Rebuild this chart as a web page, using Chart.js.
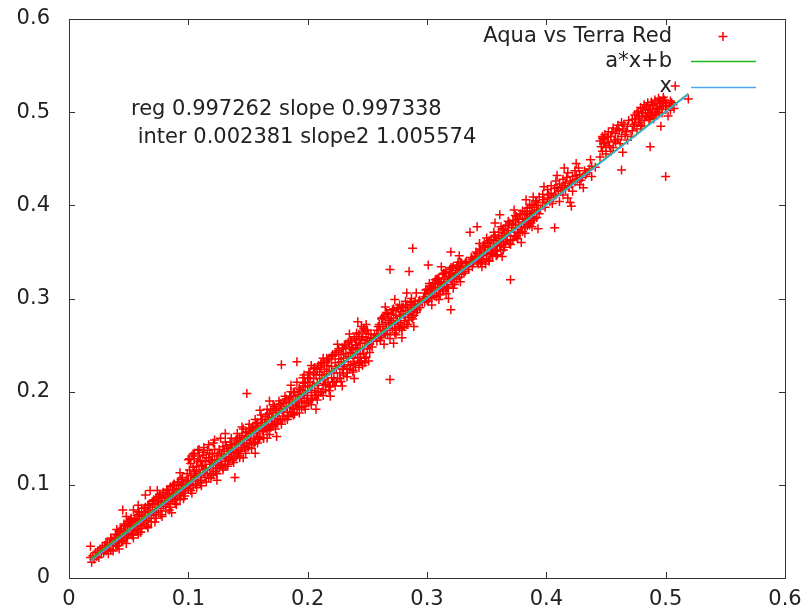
<!DOCTYPE html>
<html>
<head>
<meta charset="utf-8">
<script src="https://cdn.jsdelivr.net/npm/chart.js@4.4.1/dist/chart.umd.min.js"></script>
<style>
  body { margin: 0; background: #fff; }
  canvas { display: block; }
</style>
</head>
<body>
<canvas id="myChart" width="808" height="613"></canvas>
<script>
// Aqua vs Terra red reflectance as [aqua, terra]
let bandLow = [
    [0.018,0.022],[0.019,0.017],[0.020,0.024],[0.021,0.020],[0.022,0.027],[0.023,0.023],[0.024,0.029],
    [0.025,0.022],[0.026,0.031],[0.027,0.026],[0.028,0.033],[0.029,0.027],[0.030,0.035],[0.031,0.029],
    [0.032,0.038],[0.033,0.031],[0.034,0.036],[0.035,0.030],[0.036,0.041],[0.037,0.035],[0.038,0.043],
    [0.039,0.037],[0.040,0.034],[0.041,0.046],[0.042,0.050],[0.042,0.038],[0.043,0.044],[0.044,0.053],
    [0.044,0.040],[0.045,0.047],[0.046,0.056],[0.046,0.042],[0.047,0.050],[0.048,0.066],[0.048,0.045],
    [0.049,0.058],[0.049,0.052],[0.050,0.047],[0.050,0.061],[0.051,0.055],[0.052,0.063],[0.052,0.048],
    [0.053,0.058],[0.054,0.051],[0.055,0.062],[0.055,0.056],[0.056,0.052],[0.057,0.067],[0.057,0.060],
    [0.058,0.055],[0.058,0.047],[0.059,0.070],[0.059,0.063],[0.060,0.057],[0.060,0.049],[0.061,0.066],
    [0.061,0.075],[0.062,0.060],[0.063,0.071],[0.063,0.058],[0.064,0.066],[0.065,0.062],[0.066,0.078],
    [0.066,0.070],[0.066,0.055],[0.067,0.064],[0.068,0.073],[0.069,0.067],[0.070,0.080],[0.070,0.072],
    [0.071,0.068],[0.071,0.084],[0.072,0.076],[0.073,0.070],[0.073,0.086],[0.074,0.079],[0.075,0.072],
    [0.075,0.082],[0.076,0.090],[0.077,0.075],[0.077,0.081],[0.078,0.086],[0.079,0.077],[0.079,0.092],
    [0.080,0.083],[0.081,0.079],[0.081,0.088],[0.082,0.095],[0.083,0.080],[0.083,0.086],[0.084,0.091],
    [0.085,0.082],[0.085,0.098],[0.086,0.088],[0.087,0.084],[0.087,0.094],[0.088,0.100],[0.088,0.090],
    [0.089,0.085],[0.090,0.096],[0.090,0.092],[0.091,0.087],[0.092,0.103],[0.092,0.095],[0.093,0.089],
    [0.094,0.099],[0.094,0.092],[0.095,0.108],[0.096,0.094],[0.096,0.101],[0.097,0.091],[0.098,0.104],
    [0.098,0.097],[0.099,0.112]
];
let bandMid = [
    [0.100,0.096],[0.100,0.105],[0.100,0.127],[0.101,0.100],[0.102,0.110],[0.102,0.094],[0.103,0.131],
    [0.103,0.104],[0.104,0.099],[0.105,0.134],[0.105,0.114],[0.105,0.108],[0.106,0.101],[0.107,0.120],
    [0.107,0.109],[0.108,0.137],[0.108,0.104],[0.109,0.116],[0.110,0.110],[0.110,0.126],[0.111,0.105],
    [0.112,0.121],[0.112,0.132],[0.113,0.113],[0.114,0.108],[0.114,0.125],[0.115,0.118],[0.116,0.137],
    [0.116,0.112],[0.117,0.129],[0.118,0.116],[0.118,0.122],[0.119,0.110],[0.120,0.133],[0.120,0.124],
    [0.121,0.145],[0.121,0.118],[0.122,0.127],[0.123,0.114],[0.123,0.121],[0.124,0.131],[0.125,0.124],
    [0.126,0.118],[0.126,0.138],[0.127,0.128],[0.128,0.122],[0.128,0.133],[0.129,0.118],[0.130,0.130],
    [0.130,0.136],[0.131,0.125],[0.132,0.142],[0.132,0.130],[0.133,0.122],[0.134,0.136],[0.135,0.129],
    [0.135,0.146],[0.136,0.133],[0.137,0.126],[0.137,0.140],[0.138,0.135],[0.139,0.144],[0.140,0.131],
    [0.140,0.138],[0.141,0.150],[0.142,0.136],[0.142,0.143],[0.143,0.131],[0.144,0.146],[0.145,0.140],
    [0.145,0.153],[0.146,0.129],[0.146,0.144],[0.147,0.149],[0.148,0.138],[0.148,0.156],[0.149,0.145],
    [0.150,0.152],[0.150,0.140],[0.151,0.160],[0.152,0.148],[0.152,0.155],[0.153,0.143],[0.154,0.158],
    [0.154,0.163],[0.155,0.150],[0.156,0.146],[0.156,0.161],[0.157,0.155],[0.158,0.167],[0.158,0.152],
    [0.159,0.160],[0.160,0.151],[0.160,0.180],[0.161,0.164],[0.162,0.158],[0.162,0.170],[0.163,0.150],
    [0.164,0.167],[0.164,0.161],[0.165,0.173],[0.166,0.158],[0.167,0.170],[0.167,0.164],[0.168,0.177],
    [0.169,0.162],[0.170,0.172],[0.170,0.165],[0.171,0.178],[0.172,0.168],[0.172,0.184],[0.173,0.174],
    [0.174,0.166],[0.174,0.180],[0.175,0.171],[0.176,0.186],[0.176,0.177],[0.177,0.169],[0.178,0.182],
    [0.179,0.174],[0.180,0.188],[0.180,0.178],[0.181,0.171],[0.182,0.184],[0.182,0.192],[0.183,0.178],
    [0.184,0.174],[0.184,0.189],[0.185,0.183],[0.186,0.195],[0.186,0.178],[0.187,0.188],[0.188,0.182],
    [0.188,0.199],[0.189,0.176],[0.190,0.192],[0.190,0.186],[0.191,0.181],[0.192,0.197],[0.192,0.190],
    [0.193,0.184],[0.194,0.202],[0.194,0.195],[0.195,0.188],[0.196,0.206],[0.196,0.198],[0.197,0.184],
    [0.197,0.193],[0.198,0.210],[0.198,0.201],[0.199,0.190],[0.200,0.215],[0.200,0.205],[0.200,0.196],
    [0.201,0.188],[0.202,0.210],[0.202,0.220],[0.203,0.199],[0.204,0.207],[0.204,0.193],[0.205,0.225],
    [0.205,0.214],[0.206,0.201],[0.207,0.218],[0.207,0.196],[0.208,0.209],[0.209,0.228],[0.209,0.203],
    [0.210,0.214],[0.210,0.221],[0.211,0.199],[0.212,0.218],[0.212,0.231],[0.213,0.207],[0.214,0.224],
    [0.214,0.213],[0.215,0.202],[0.216,0.228],[0.216,0.219],[0.217,0.210],[0.218,0.235],[0.218,0.222],
    [0.219,0.206],[0.220,0.227],[0.220,0.215],[0.221,0.239],[0.222,0.220],[0.222,0.210],[0.223,0.231],
    [0.224,0.225],[0.224,0.242],[0.225,0.214],[0.226,0.235],[0.226,0.228],[0.227,0.220],[0.228,0.240],
    [0.228,0.232],[0.229,0.224],[0.230,0.246],[0.230,0.236],[0.230,0.218],[0.231,0.229],[0.232,0.241],
    [0.232,0.251],[0.233,0.225],[0.234,0.238],[0.234,0.232],[0.235,0.248],[0.236,0.229],[0.236,0.242],
    [0.237,0.255],[0.238,0.236],[0.238,0.245],[0.238,0.221],[0.239,0.230],[0.240,0.250],[0.240,0.241],
    [0.241,0.263],[0.242,0.237],[0.242,0.247],[0.243,0.256],[0.243,0.231],[0.244,0.240],[0.244,0.252],
    [0.245,0.233],[0.246,0.259],[0.246,0.246],[0.246,0.228],[0.247,0.241],[0.248,0.266],[0.248,0.252],
    [0.249,0.272],[0.249,0.237],[0.250,0.255],[0.250,0.246],[0.251,0.262],[0.252,0.242],[0.252,0.251],
    [0.253,0.257],[0.254,0.248]
];
let bandHigh = [
    [0.257,0.258],[0.258,0.266],[0.258,0.254],[0.259,0.262],[0.260,0.272],[0.260,0.258],[0.261,0.266],
    [0.262,0.278],[0.262,0.260],[0.263,0.270],[0.264,0.262],[0.264,0.281],[0.265,0.274],[0.266,0.268],
    [0.266,0.285],[0.267,0.261],[0.268,0.278],[0.268,0.272],[0.269,0.266],[0.270,0.283],[0.270,0.274],
    [0.271,0.268],[0.272,0.279],[0.272,0.287],[0.273,0.272],[0.274,0.282],[0.274,0.266],[0.275,0.276],
    [0.276,0.289],[0.276,0.270],[0.277,0.281],[0.278,0.274],[0.278,0.286],[0.279,0.269],[0.280,0.283],
    [0.280,0.291],[0.281,0.276],[0.282,0.287],[0.282,0.280],[0.283,0.272],[0.284,0.290],[0.284,0.283],
    [0.285,0.277],[0.286,0.287],[0.287,0.293],[0.287,0.280],[0.288,0.286],[0.289,0.282],[0.290,0.291],
    [0.290,0.297],[0.291,0.306],[0.291,0.285],[0.292,0.293],[0.294,0.290],[0.294,0.298],[0.297,0.300],
    [0.298,0.296],[0.298,0.306],[0.299,0.302],[0.300,0.310],[0.300,0.298],[0.301,0.305],[0.302,0.300],
    [0.303,0.313],[0.303,0.307],[0.304,0.301],[0.305,0.316],[0.305,0.309],[0.306,0.303],[0.307,0.312],
    [0.307,0.320],[0.308,0.306],[0.309,0.315],[0.310,0.309],[0.310,0.322],[0.311,0.304],[0.312,0.318],
    [0.312,0.312],[0.313,0.326],[0.314,0.310],[0.314,0.316],[0.315,0.321],[0.316,0.313],[0.316,0.329],
    [0.317,0.318],[0.318,0.311],[0.318,0.324],[0.319,0.331],[0.320,0.320],[0.320,0.327],[0.321,0.315],
    [0.322,0.334],[0.322,0.324],[0.323,0.318],[0.324,0.330],[0.324,0.326],[0.325,0.321],[0.326,0.336],
    [0.326,0.328],[0.327,0.323],[0.328,0.331],[0.328,0.339],[0.329,0.326],[0.330,0.333],[0.332,0.329],
    [0.332,0.338],[0.334,0.335],[0.336,0.338],[0.338,0.342],[0.338,0.334],[0.340,0.345],[0.342,0.339],
    [0.342,0.348],[0.344,0.343],[0.345,0.352],[0.345,0.338],[0.346,0.346],[0.347,0.357],[0.347,0.342],
    [0.348,0.350],[0.349,0.337],[0.349,0.355],[0.350,0.347],[0.351,0.360],[0.351,0.352],[0.352,0.341],
    [0.353,0.356],[0.353,0.349],[0.354,0.363],[0.355,0.353],[0.355,0.345],[0.356,0.359],[0.357,0.368],
    [0.357,0.351],[0.358,0.362],[0.359,0.347],[0.359,0.356],[0.360,0.371],[0.360,0.364],[0.361,0.390],
    [0.361,0.358],[0.362,0.352],[0.363,0.366],[0.363,0.374],[0.364,0.360],[0.365,0.370],[0.365,0.355],
    [0.366,0.378],[0.367,0.363],[0.367,0.368],[0.368,0.373],[0.369,0.359],[0.369,0.381],[0.370,0.367],
    [0.371,0.376],[0.372,0.363],[0.372,0.384],[0.373,0.371],[0.374,0.379],[0.375,0.366],[0.375,0.388],
    [0.376,0.374],[0.377,0.382],[0.377,0.370],[0.378,0.391],[0.379,0.377],[0.380,0.385],[0.380,0.372],
    [0.381,0.380],[0.382,0.393],[0.382,0.376],[0.383,0.386],[0.384,0.378],[0.384,0.397],[0.385,0.383],
    [0.386,0.390],[0.386,0.401],[0.387,0.381],[0.388,0.394],[0.388,0.388],[0.389,0.384],[0.390,0.398],
    [0.390,0.392],[0.391,0.405],[0.392,0.387],[0.392,0.395],[0.393,0.400],[0.394,0.391],[0.394,0.409],
    [0.397,0.403],[0.397,0.412],[0.399,0.398],[0.401,0.408],[0.401,0.417],[0.403,0.404],[0.404,0.413],
    [0.404,0.421],[0.406,0.409],[0.407,0.418],[0.408,0.426],[0.408,0.411],[0.410,0.416],[0.411,0.404],
    [0.411,0.423],[0.413,0.419],[0.414,0.411],[0.414,0.428],[0.416,0.424],[0.416,0.417],[0.418,0.435],
    [0.418,0.408],[0.419,0.420],[0.420,0.403],[0.420,0.426],[0.422,0.431],[0.422,0.415],[0.424,0.425],
    [0.424,0.437],[0.426,0.428],[0.428,0.433],[0.428,0.422],[0.430,0.430],[0.432,0.437],[0.434,0.435],
    [0.438,0.431],[0.438,0.442],[0.445,0.469],[0.445,0.452],[0.447,0.472],[0.447,0.474],[0.447,0.458],
    [0.448,0.471],[0.448,0.466],[0.449,0.476],[0.450,0.462],[0.450,0.455],[0.452,0.479],[0.452,0.468],
    [0.454,0.458],[0.454,0.474],[0.456,0.483],[0.456,0.462],[0.458,0.477],[0.458,0.468],[0.460,0.486],
    [0.460,0.471],[0.461,0.480],[0.463,0.489],[0.463,0.474],[0.464,0.457],[0.464,0.482],[0.466,0.476],
    [0.468,0.485],[0.468,0.470],[0.472,0.480],[0.472,0.492],[0.474,0.487],[0.474,0.497],[0.476,0.482],
    [0.477,0.501],[0.477,0.493],[0.478,0.489],[0.479,0.505],[0.480,0.496],[0.480,0.485],[0.481,0.499],
    [0.482,0.508],[0.482,0.491],[0.483,0.502],[0.484,0.495],[0.485,0.510],[0.485,0.499],[0.486,0.492],
    [0.487,0.504],[0.488,0.511],[0.488,0.497],[0.489,0.500],[0.490,0.507],[0.490,0.493],[0.491,0.513],
    [0.492,0.503],[0.492,0.497],[0.493,0.509],[0.494,0.500],[0.494,0.515],[0.495,0.505],[0.496,0.485],
    [0.496,0.511],[0.497,0.499],[0.498,0.507],[0.498,0.516],[0.500,0.503],[0.500,0.510],[0.502,0.496],
    [0.504,0.512],[0.504,0.502],[0.506,0.508]
];
// more points along the upper and lower edge of the band
let bandEdge = [
    [0.031,0.038],[0.033,0.026],[0.035,0.043],[0.037,0.029],[0.039,0.047],[0.041,0.035],[0.043,0.051],
    [0.045,0.039],[0.047,0.056],[0.049,0.043],[0.051,0.060],[0.053,0.046],[0.055,0.064],[0.057,0.050],
    [0.059,0.068],[0.061,0.053],[0.063,0.075],[0.065,0.057],[0.067,0.079],[0.069,0.060],[0.071,0.083],
    [0.073,0.064],[0.075,0.087],[0.077,0.068],[0.079,0.090],[0.081,0.072],[0.083,0.095],[0.085,0.076],
    [0.087,0.099],[0.089,0.080],[0.091,0.103],[0.093,0.084],[0.095,0.100],[0.097,0.088],[0.099,0.103],
    [0.101,0.116],[0.102,0.123],[0.104,0.119],[0.105,0.128],[0.106,0.112],[0.108,0.125],[0.109,0.131],
    [0.110,0.102],[0.111,0.120],[0.113,0.135],[0.114,0.117],[0.115,0.129],[0.117,0.108],[0.118,0.134],
    [0.119,0.126],[0.121,0.112],[0.122,0.138],[0.124,0.118],[0.125,0.134],[0.127,0.121],[0.129,0.141],
    [0.131,0.120],[0.133,0.139],[0.134,0.127],[0.136,0.143],[0.138,0.128],[0.140,0.148],[0.141,0.134],
    [0.143,0.151],[0.144,0.136],[0.147,0.140],[0.149,0.157],[0.151,0.145],[0.153,0.161],[0.155,0.144],
    [0.157,0.166],[0.159,0.149],[0.161,0.170],[0.163,0.157],[0.165,0.164],[0.166,0.176],[0.168,0.159],
    [0.169,0.180],[0.171,0.163],[0.173,0.182],[0.175,0.166],[0.177,0.187],[0.179,0.170],[0.181,0.191],
    [0.183,0.173],[0.185,0.194],[0.187,0.177],[0.189,0.200],[0.191,0.184],[0.193,0.204],[0.195,0.183],
    [0.197,0.209],[0.199,0.188],[0.201,0.214],[0.203,0.191],[0.205,0.219],[0.206,0.196],[0.208,0.224],
    [0.209,0.197],[0.211,0.226],[0.212,0.200],[0.214,0.231],[0.215,0.208],[0.217,0.233],[0.218,0.205],
    [0.220,0.238],[0.221,0.210],[0.223,0.240],[0.224,0.211],[0.226,0.244],[0.227,0.214],[0.229,0.247],
    [0.230,0.227],[0.231,0.250],[0.233,0.220],[0.234,0.253],[0.235,0.224],[0.237,0.247],[0.239,0.257],
    [0.240,0.228],[0.241,0.250],[0.243,0.262],[0.244,0.233],[0.245,0.256],[0.247,0.268],[0.248,0.236],
    [0.249,0.258],[0.251,0.250],[0.253,0.262],[0.255,0.256],[0.256,0.261],[0.259,0.270],[0.261,0.255],
    [0.263,0.279],[0.265,0.262],[0.267,0.283],[0.269,0.276],[0.271,0.288],[0.273,0.263],[0.275,0.290],
    [0.277,0.268],[0.279,0.291],[0.281,0.270],[0.283,0.293],[0.285,0.284],[0.286,0.296],[0.288,0.278],
    [0.289,0.294],[0.292,0.288],[0.293,0.297],[0.296,0.296],[0.299,0.309],[0.301,0.297],[0.302,0.313],
    [0.304,0.311],[0.306,0.317],[0.308,0.302],[0.309,0.321],[0.311,0.317],[0.313,0.308],[0.315,0.327],
    [0.317,0.311],[0.319,0.323],[0.321,0.333],[0.323,0.315],[0.325,0.335],[0.327,0.330],[0.329,0.338],
    [0.331,0.327],[0.333,0.340],[0.335,0.331],[0.337,0.344],[0.339,0.339],[0.341,0.350],[0.343,0.337],
    [0.344,0.353],[0.346,0.340],[0.348,0.359],[0.350,0.343],[0.352,0.362],[0.354,0.348],[0.356,0.366],
    [0.358,0.351],[0.360,0.368],[0.362,0.357],[0.364,0.375],[0.366,0.361],[0.368,0.379],[0.370,0.362],
    [0.372,0.380],[0.374,0.367],[0.376,0.386],[0.378,0.371],[0.380,0.390],[0.382,0.385],[0.384,0.391],
    [0.386,0.379],[0.388,0.400],[0.390,0.386],[0.392,0.403],[0.395,0.396],[0.398,0.406],[0.402,0.411],
    [0.405,0.402],[0.409,0.419],[0.412,0.415],[0.415,0.421],[0.417,0.430],[0.421,0.423],[0.425,0.432],
    [0.427,0.440],[0.429,0.427],[0.433,0.433],[0.436,0.439],[0.441,0.441],[0.446,0.463],[0.449,0.467],
    [0.451,0.473],[0.453,0.464],[0.455,0.479],[0.457,0.470],[0.459,0.482],[0.462,0.466],[0.465,0.487],
    [0.467,0.479],[0.469,0.491],[0.471,0.474],[0.473,0.485],[0.475,0.493],[0.476,0.499],[0.478,0.495],
    [0.479,0.486],[0.481,0.504],[0.483,0.496],[0.484,0.506],[0.486,0.502],[0.487,0.494],[0.489,0.508],
    [0.491,0.498],[0.493,0.504],[0.495,0.512],[0.497,0.506],[0.499,0.513],[0.501,0.507],[0.503,0.506],
    [0.505,0.510],[0.507,0.504]
];
// outermost points of the thick parts of the band
let bandOuter = [
    [0.040,0.052],[0.042,0.031],[0.046,0.058],[0.048,0.037],[0.052,0.064],[0.054,0.043],[0.058,0.071],
    [0.060,0.049],[0.064,0.076],[0.066,0.054],[0.070,0.082],[0.072,0.060],[0.076,0.088],[0.078,0.066],
    [0.082,0.094],[0.084,0.073],[0.088,0.101],[0.090,0.079],[0.094,0.106],[0.096,0.085],[0.101,0.128],
    [0.103,0.091],[0.104,0.133],[0.107,0.097],[0.109,0.138],[0.111,0.099],[0.113,0.140],[0.115,0.103],
    [0.117,0.143],[0.119,0.107],[0.122,0.148],[0.124,0.112],[0.127,0.150],[0.129,0.116],[0.131,0.146],
    [0.133,0.120],[0.136,0.150],[0.138,0.124],[0.141,0.155],[0.143,0.129],[0.146,0.160],[0.148,0.134],
    [0.151,0.165],[0.153,0.139],[0.156,0.170],[0.158,0.145],[0.161,0.175],[0.163,0.150],[0.166,0.181],
    [0.168,0.154],[0.171,0.186],[0.173,0.160],[0.176,0.190],[0.178,0.165],[0.181,0.195],[0.183,0.170],
    [0.186,0.200],[0.188,0.175],[0.191,0.210],[0.193,0.177],[0.196,0.215],[0.198,0.181],[0.201,0.221],
    [0.203,0.186],[0.206,0.226],[0.208,0.191],[0.211,0.230],[0.213,0.196],[0.216,0.236],[0.218,0.201],
    [0.221,0.240],[0.223,0.206],[0.226,0.246],[0.228,0.211],[0.231,0.250],[0.233,0.216],[0.236,0.255],
    [0.238,0.223],[0.241,0.259],[0.243,0.226],[0.246,0.264],[0.248,0.231],[0.250,0.266],[0.262,0.279],
    [0.264,0.251],[0.267,0.284],[0.269,0.257],[0.272,0.289],[0.274,0.261],[0.277,0.293],[0.279,0.266],
    [0.282,0.297],[0.284,0.272],[0.287,0.300],[0.302,0.316],[0.304,0.293],[0.308,0.321],[0.310,0.299],
    [0.314,0.327],[0.316,0.305],[0.320,0.333],[0.322,0.311],[0.326,0.339],[0.328,0.318],[0.344,0.359],
    [0.346,0.334],[0.350,0.365],[0.352,0.340],[0.356,0.371],[0.358,0.346],[0.362,0.377],[0.364,0.352],
    [0.368,0.383],[0.370,0.358],[0.374,0.389],[0.376,0.364],[0.380,0.394],[0.382,0.370],[0.386,0.398],
    [0.388,0.377]
];
// loose points scattered just off the band
let bandStray = [
    [0.058,0.078],[0.074,0.094],[0.086,0.070],[0.093,0.113],[0.131,0.155],[0.145,0.162],[0.156,0.134],
    [0.166,0.150],[0.168,0.190],[0.174,0.152],[0.186,0.207],[0.197,0.218],[0.203,0.228],[0.207,0.181],
    [0.213,0.236],[0.219,0.195],[0.225,0.251],[0.229,0.206],[0.235,0.262],[0.239,0.214],[0.245,0.270],
    [0.251,0.233],[0.265,0.291],[0.273,0.299],[0.279,0.258],[0.283,0.306],[0.289,0.270],[0.312,0.334],
    [0.318,0.300],[0.327,0.346],[0.357,0.381],[0.363,0.345],[0.373,0.395],[0.379,0.360],[0.383,0.406],
    [0.389,0.409],[0.393,0.375],[0.398,0.420],[0.409,0.432],[0.415,0.440],[0.425,0.445],[0.431,0.419],
    [0.437,0.449]
];
let outliers = [
    [0.018,0.034],[0.045,0.073],[0.054,0.073],[0.064,0.089],[0.068,0.094],[0.124,0.105],[0.139,0.108],
    [0.149,0.198],[0.178,0.229],[0.191,0.232],[0.242,0.275],[0.269,0.213],[0.269,0.331],[0.272,0.252],
    [0.285,0.329],[0.288,0.354],[0.301,0.336],[0.320,0.350],[0.320,0.288],[0.336,0.371],[0.342,0.377],
    [0.370,0.320],[0.407,0.376],[0.421,0.399],[0.463,0.438],[0.487,0.463],[0.500,0.431],[0.508,0.528],
    [0.519,0.514]
];

// fitted line a*x+b and the identity line, end points only
let fitLine = [[0.018, 0.0203], [0.519, 0.5200]];
let idLine = [[0.018, 0.018], [0.519, 0.519]];

let tickValues = [0, 0.1, 0.2, 0.3, 0.4, 0.5, 0.6];
let keyLabels = ['Aqua vs Terra Red', 'a*x+b', 'x'];
let noteLines = ['reg 0.997262 slope 0.997338', ' inter 0.002381 slope2 1.005574'];

let FONT = '21px "DejaVu Sans", sans-serif';
let INK = '#222';

// gnuplot style frame with inward ticks on all four sides
let framePlugin = {
    id: 'frame',
    afterDraw(chart) {
        let c = chart.ctx;
        let a = chart.chartArea;
        let xs = chart.scales.x, ys = chart.scales.y;
        c.save();
        c.strokeStyle = '#333';
        c.lineWidth = 1;
        c.beginPath();
        tickValues.forEach(v => {
            let px = Math.round(xs.getPixelForValue(v)) + 0.5;
            c.moveTo(px, a.bottom); c.lineTo(px, a.bottom - 6);
            c.moveTo(px, a.top); c.lineTo(px, a.top + 6);
            let py = Math.round(ys.getPixelForValue(v)) + 0.5;
            c.moveTo(a.left, py); c.lineTo(a.left + 6, py);
            c.moveTo(a.right, py); c.lineTo(a.right - 6, py);
        });
        c.stroke();
        c.strokeRect(Math.round(a.left) + 0.5, Math.round(a.top) + 0.5,
            Math.round(a.right - a.left), Math.round(a.bottom - a.top));
        c.restore();
    }
};

// key in the top right and the regression note
let keyPlugin = {
    id: 'key',
    afterDatasetsDraw(chart) {
        let c = chart.ctx;
        c.save();
        c.font = FONT;
        c.fillStyle = INK;
        c.textAlign = 'right';
        c.textBaseline = 'alphabetic';
        keyLabels.forEach((t, i) => c.fillText(t, 672, 41.5 + i * 25));
        c.textAlign = 'left';
        noteLines.forEach((t, i) => c.fillText(t, 131, 115 + i * 28));

        c.lineWidth = 1.5;
        c.strokeStyle = '#ff0000';
        c.beginPath();
        c.moveTo(718.5, 36.5); c.lineTo(727.5, 36.5);
        c.moveTo(723, 32); c.lineTo(723, 41);
        c.stroke();

        c.lineWidth = 1.5;
        c.strokeStyle = chart.data.datasets[1].borderColor;
        c.beginPath(); c.moveTo(691, 61.5); c.lineTo(756, 61.5); c.stroke();
        c.strokeStyle = chart.data.datasets[2].borderColor;
        c.beginPath(); c.moveTo(691, 87.5); c.lineTo(756, 87.5); c.stroke();
        c.restore();
    }
};

let tickFmt = v => String(+Number(v).toFixed(1));

// drop the half-label overflow padding so the frame sits where the reference has it
let noPad = s => {
    s.paddingTop = 0; s.paddingBottom = 0; s.paddingLeft = 0; s.paddingRight = 0;
};

let ctx = document.getElementById('myChart').getContext('2d');

let chart = new Chart(ctx, {
    type: 'scatter',
    data: {
        datasets: [
            {
                label: keyLabels[0],
                data: bandLow.concat(bandMid, bandHigh, bandEdge, bandOuter, bandStray, outliers),
                pointStyle: 'cross',
                pointRadius: 4.5,
                pointBorderWidth: 1.5,
                borderColor: '#ff0000',
                backgroundColor: '#ff0000',
                showLine: false,
                order: 3
            },
            {
                label: keyLabels[1],
                data: fitLine,
                showLine: true,
                pointRadius: 0,
                borderColor: '#22b822',
                borderWidth: 1.5,
                order: 2
            },
            {
                label: keyLabels[2],
                data: idLine,
                showLine: true,
                pointRadius: 0,
                borderColor: '#4aa6f2',
                borderWidth: 1.5,
                order: 1
            }
        ]
    },
    options: {
        responsive: false,
        animation: false,
        layout: { padding: { top: 19, right: 23, left: 0, bottom: 0 } },
        plugins: {
            legend: { display: false },
            tooltip: { enabled: false }
        },
        scales: {
            x: {
                type: 'linear',
                min: 0,
                max: 0.6,
                afterFit: s => { s.height = 35; noPad(s); },
                afterBuildTicks: s => { s.ticks = tickValues.map(v => ({ value: v })); },
                grid: { display: false, drawTicks: false },
                border: { display: false },
                ticks: { font: { family: 'DejaVu Sans', size: 21 }, color: INK, padding: 9, maxRotation: 0, callback: tickFmt }
            },
            y: {
                type: 'linear',
                min: 0,
                max: 0.6,
                afterFit: s => { s.width = 69; noPad(s); },
                afterBuildTicks: s => { s.ticks = tickValues.map(v => ({ value: v })); },
                grid: { display: false, drawTicks: false },
                border: { display: false },
                ticks: { font: { family: 'DejaVu Sans', size: 21 }, color: INK, padding: 19, callback: tickFmt }
            }
        }
    },
    plugins: [framePlugin, keyPlugin]
});
</script>
</body>
</html>
